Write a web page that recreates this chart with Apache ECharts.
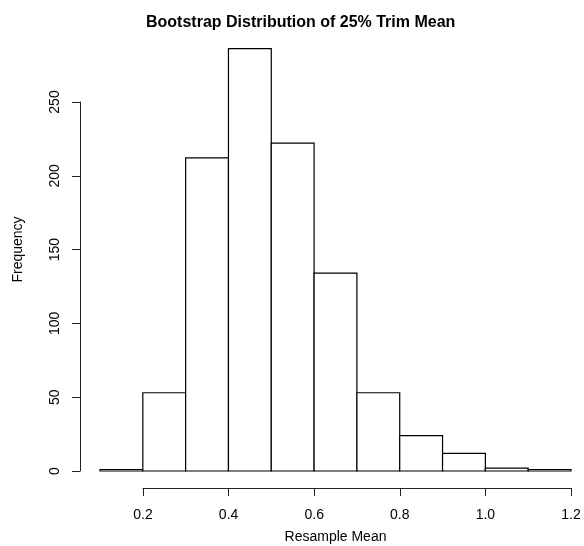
<!DOCTYPE html>
<html>
<head>
<meta charset="utf-8">
<script src="https://cdn.jsdelivr.net/npm/echarts@6/dist/echarts.min.js"></script>
<style>
  html, body { margin: 0; padding: 0; background: #fff; }
  #main { width: 584px; height: 546px; }
</style>
</head>
<body>
<div id="main"></div>
<script>
// histogram bins (left edge, right edge) and counts
const binStart = [0.1, 0.2, 0.3, 0.4, 0.5, 0.6, 0.7, 0.8, 0.9, 1.0, 1.1];
const binEnd = [0.2, 0.3, 0.4, 0.5, 0.6, 0.7, 0.8, 0.9, 1.0, 1.1, 1.2];
const counts = [1, 53, 212, 286, 222, 134, 53, 24, 12, 2, 1];

const font = "'Liberation Sans', Arial, Helvetica, sans-serif";
const chart = echarts.init(document.getElementById('main'));

let hist = [];
for (let i = 0; i < counts.length; i++) {
    hist.push([binStart[i], binEnd[i], counts[i]]);
}

const hidden = {
    axisLine: { show: false },
    axisTick: { show: false },
    axisLabel: { show: false },
    splitLine: { show: false }
};

option = {
    animation: false,
    backgroundColor: '#fff',
    title: {
        text: 'Bootstrap Distribution of 25% Trim Mean',
        left: 141,
        top: 10,
        textStyle: {
            fontFamily: font,
            fontWeight: 'bold',
            fontSize: 16,
            color: '#000'
        }
    },
    grid: [
        // plotting area
        { left: 100, right: 13, top: 28, bottom: 75, outerBoundsMode: 'none' },
        // y axis (0 - 250)
        { left: 80, width: 10, top: 102, bottom: 75, outerBoundsMode: 'none' },
        // x axis (0.2 - 1.2)
        { left: 143, right: 13, bottom: 58, height: 10, outerBoundsMode: 'none' }
    ],
    xAxis: [
        Object.assign({
            gridIndex: 0, type: 'value', min: 0.1, max: 1.2,
            name: 'Resample Mean', nameLocation: 'middle', nameGap: 59,
            nameTextStyle: { fontFamily: font, fontSize: 14, color: '#000' }
        }, hidden),
        Object.assign({ gridIndex: 1, type: 'value', min: 0, max: 1 }, hidden),
        {
            gridIndex: 2, type: 'value', min: 0.2, max: 1.2, interval: 0.2,
            position: 'bottom',
            axisLine: { lineStyle: { color: '#222', width: 1 } },
            axisTick: { length: 8, lineStyle: { color: '#222' } },
            axisLabel: {
                margin: 20, fontFamily: font, fontSize: 14, color: '#000',
                formatter: function (v) { return v.toFixed(1); }
            },
            splitLine: { show: false }
        }
    ],
    yAxis: [
        Object.assign({
            gridIndex: 0, type: 'value', min: 0, max: 300,
            name: 'Frequency', nameLocation: 'middle', nameGap: 75,
            nameTextStyle: { fontFamily: font, fontSize: 14, color: '#000' }
        }, hidden),
        {
            gridIndex: 1, type: 'value', min: 0, max: 250, interval: 50,
            position: 'left',
            axisLine: { show: true, lineStyle: { color: '#222', width: 1 } },
            axisTick: { show: true, length: 8, lineStyle: { color: '#222' } },
            axisLabel: {
                rotate: 90, margin: 18, fontFamily: font, fontSize: 14, color: '#000'
            },
            splitLine: { show: false }
        },
        Object.assign({ gridIndex: 2, type: 'value', min: 0, max: 1 }, hidden)
    ],
    series: [{
        type: 'custom',
        xAxisIndex: 0,
        yAxisIndex: 0,
        data: hist,
        renderItem: function (params, api) {
            let p0 = api.coord([api.value(0), api.value(2)]);
            let p1 = api.coord([api.value(1), 0]);
            return {
                type: 'rect',
                shape: { x: p0[0], y: p0[1], width: p1[0] - p0[0], height: p1[1] - p0[1] },
                style: { fill: '#fff', stroke: '#000', lineWidth: 1.2 }
            };
        }
    }]
};
chart.setOption(option);
</script>
</body>
</html>
